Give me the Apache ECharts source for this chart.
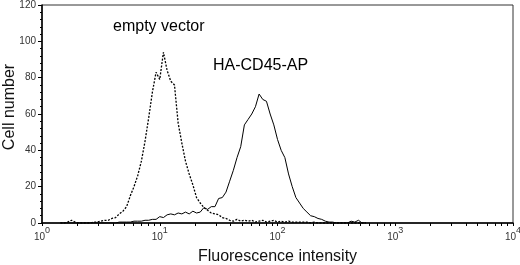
<!DOCTYPE html>
<html>
	<head>
		<meta charset="utf-8">
		<title>Fluorescence histogram</title>
		<script src="https://cdn.jsdelivr.net/npm/echarts@6/dist/echarts.min.js"></script>
	</head>
	<body style="margin:0;background:#fff">
		<div id="box" style="width: 520px;height: 265px;"></div>
		<script>
			// log display: 64 channels per decade, 10^0 .. 10^4 = channel 0 .. 256
			var channels = [
				10, 12, 14, 16, 18, 20, 22, 24, 26, 28,
				30, 32, 34, 36, 38, 40, 42, 44, 46, 48,
				50, 52, 54, 56, 58, 60, 62, 64, 66, 68,
				70, 72, 74, 76, 78, 80, 82, 84, 86, 88,
				90, 92, 94, 96, 98, 100, 102, 104, 106, 108,
				110, 112, 114, 116, 118, 120, 122, 124, 126, 128,
				130, 132, 134, 136, 138, 140, 142, 144, 146, 148,
				150, 152, 154, 156, 158, 160, 162, 164, 166, 168,
				170, 172, 174, 176
			]
			var emptyVector = [
				0, 0, 0.5, 1.5, 0.5, 0, 0, 0, 0, 0.5,
				0.5, 1, 1.5, 1.5, 2.5, 3, 5, 6.5, 9, 15,
				20, 26, 34, 45, 58, 72, 83, 79, 94, 84,
				78, 76, 55, 44, 34, 27, 21, 14, 11, 8.5,
				7, 5.5, 5, 4.5, 3, 2.5, 1.5, 1, 2, 1,
				1.5, 1, 1.5, 0.5, 1, 1.5, 0.5, 1, 1.5, 0.5,
				1, 0.5, 1, 0.5, 0.5, 0.5, 0.5, 0.5, 0, 0.5,
				0, 0, 0, 0, 0, 0, 0, 0, 0, 0,
				0, 0, 0, 0
			]
			var haCD45AP = [
				0, 0, 0, 0, 0, 0, 0, 0, 0, 0,
				0, 0, 0, 0, 0, 0, 0.5, 0.5, 0.5, 0.5,
				1, 1, 1, 1.5, 1.5, 2, 2, 3.5, 3, 4.5,
				5, 4.5, 5.5, 5, 6, 5, 6.5, 5.5, 6, 8.5,
				7.5, 9, 9, 13.5, 14, 17, 23, 29, 36, 42,
				54, 57, 60, 64, 71, 68, 67, 60, 54, 46,
				40, 36, 27, 20, 14, 11, 8, 6, 4, 3.5,
				2.5, 2, 1, 0.5, 0.5, 0, 0, 0, 0, 1,
				0.5, 1.5, 0, 0
			]
			var decades = [0, 1, 2, 3, 4]
			var yTicks = [0, 20, 40, 60, 80, 100, 120]

			var font = 'Liberation Sans, Arial, sans-serif'

			// tick marks at 1..9 of every decade
			var xTickValues = []
			for (var d = 0; d < 4; d++) {
				for (var k = 1; k < 10; k++) {
					xTickValues.push(64 * (d + Math.log10(k)))
				}
			}
			xTickValues.push(256)

			function pairs(vals) {
				return channels.map(function(c, i) { return [c, vals[i]] })
			}

			var mCharts = echarts.init(document.querySelector('#box'))
			var option = {
				animation: false,
				grid: {
					left: 42, right: 7, top: 5, bottom: 42,
					containLabel: false,
					outerBoundsMode: 'none',
					show: true, borderColor: '#333', borderWidth: 1
				},
				xAxis: {
					type: 'value',
					min: 0,
					max: 256,
					interval: 64,
					name: 'Fluorescence intensity',
					nameLocation: 'middle',
					nameGap: 26,
					nameMoveOverlap: false,
					nameTextStyle: { fontFamily: font, fontSize: 16, color: '#111' },
					axisLine: { lineStyle: { color: '#000', width: 1.5 } },
					axisTick: { show: true, length: 3, customValues: xTickValues, lineStyle: { color: '#000' } },
					splitLine: { show: false },
					axisLabel: {
						margin: 3,
						showMinLabel: true,
						showMaxLabel: true,
						formatter: function(v) {
							return '{b|10}{s|' + decades[Math.round(v / 64)] + '}'
						},
						rich: {
							b: { fontFamily: font, fontSize: 10, color: '#333', lineHeight: 16, verticalAlign: 'bottom' },
							s: { fontFamily: font, fontSize: 9, color: '#333', lineHeight: 16, verticalAlign: 'top' }
						}
					}
				},
				yAxis: {
					type: 'value',
					min: yTicks[0],
					max: yTicks[yTicks.length - 1],
					interval: 20,
					name: 'Cell number',
					nameLocation: 'middle',
					nameGap: 24,
					nameMoveOverlap: false,
					nameTextStyle: { fontFamily: font, fontSize: 16, color: '#111', padding: [0, 0, 0, 14] },
					axisLine: { show: true, lineStyle: { color: '#000', width: 1.5 } },
					axisTick: { show: true, length: 4, lineStyle: { color: '#000' } },
					minorTick: { show: true, splitNumber: 5, length: 2, lineStyle: { color: '#000' } },
					splitLine: { show: false },
					axisLabel: { fontFamily: font, fontSize: 10, color: '#333', margin: 6 }
				},
				series: [
					{
						name: 'empty vector',
						type: 'line',
						showSymbol: false,
						data: pairs(emptyVector),
						lineStyle: { color: '#000', width: 1.3, type: [2, 1.5] }
					},
					{
						name: 'HA-CD45-AP',
						type: 'line',
						showSymbol: false,
						data: pairs(haCD45AP),
						lineStyle: { color: '#000', width: 1 }
					}
				],
				graphic: [
					{ type: 'text', left: 113, top: 19, style: { text: 'empty vector', fontFamily: font, fontSize: 16, fill: '#000' } },
					{ type: 'text', left: 213, top: 58, style: { text: 'HA-CD45-AP', fontFamily: font, fontSize: 16, fill: '#000' } }
				]
			}
			mCharts.setOption(option)
		</script>
	</body>
</html>
